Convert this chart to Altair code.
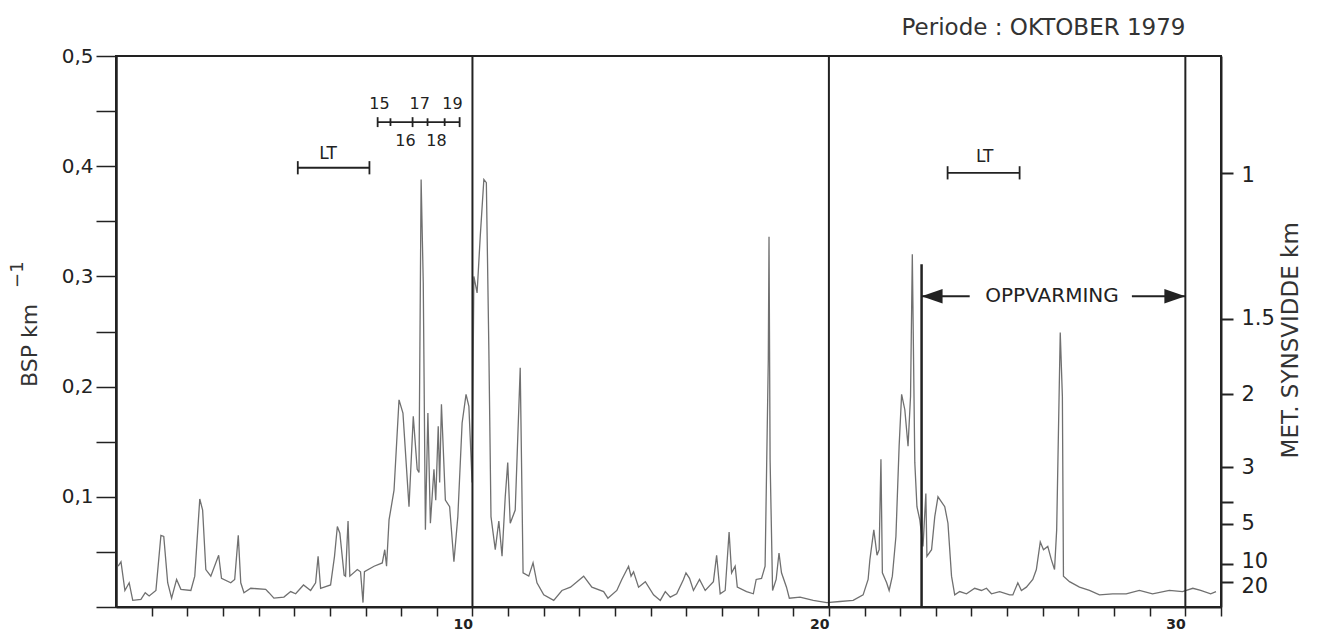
import altair as alt
import pandas as pd

# ---- data (day of October, BSP km^-1) ----
day = [0.06, 0.14, 0.25, 0.37, 0.47, 0.70, 0.82, 0.93, 1.12, 1.26, 1.34, 1.45, 1.56, 1.70, 1.82,
       2.10, 2.21, 2.35, 2.43, 2.52, 2.66, 2.88, 2.96, 3.22, 3.33, 3.43, 3.50, 3.59, 3.78, 4.20,
       4.29, 4.43, 4.71, 4.90, 5.04, 5.26, 5.46, 5.60, 5.67, 5.74, 6.02, 6.13, 6.21, 6.28, 6.40,
       6.44, 6.51, 6.56, 6.77, 6.86, 6.93, 6.97, 7.24, 7.47, 7.54, 7.59, 7.66, 7.80, 7.94, 8.05,
       8.22, 8.34, 8.45, 8.50, 8.56, 8.62, 8.68, 8.75, 8.82, 8.92, 8.97, 9.04, 9.08, 9.13, 9.24,
       9.36, 9.48, 9.59, 9.71, 9.82, 9.90, 9.99, 10.04, 10.13, 10.22, 10.32, 10.39, 10.46, 10.52,
       10.64, 10.74, 10.83, 10.92, 10.99, 11.06, 11.20, 11.34, 11.42, 11.58, 11.70, 11.81, 12.00,
       12.28, 12.51, 12.75, 13.12, 13.35, 13.68, 13.80, 14.05, 14.19, 14.38, 14.45, 14.52, 14.66,
       14.85, 15.08, 15.27, 15.41, 15.55, 15.73, 15.92, 15.99, 16.09, 16.20, 16.37, 16.53, 16.76,
       16.85, 16.95, 17.09, 17.20, 17.27, 17.37, 17.43, 17.69, 17.88, 17.96, 18.11, 18.21, 18.30,
       18.32, 18.35, 18.42, 18.52, 18.60, 18.67, 18.81, 18.89, 19.19, 19.56, 19.94, 20.31, 20.68,
       20.96, 21.10, 21.15, 21.26, 21.35, 21.41, 21.46, 21.50, 21.62, 21.69, 21.78, 21.88, 21.97,
       22.04, 22.13, 22.22, 22.29, 22.34, 22.41, 22.47, 22.55, 22.64, 22.72, 22.75, 22.88, 22.97,
       23.06, 23.25, 23.34, 23.44, 23.53, 23.67, 23.86, 24.09, 24.28, 24.42, 24.56, 24.79, 25.07,
       25.16, 25.30, 25.40, 25.54, 25.72, 25.82, 25.93, 26.02, 26.14, 26.24, 26.33, 26.39, 26.49,
       26.55, 26.58, 26.75, 27.03, 27.31, 27.59, 27.96, 28.34, 28.71, 29.08, 29.55, 29.92, 30.21,
       30.43, 30.71, 30.86]
bsp = [0.037, 0.041, 0.015, 0.022, 0.006, 0.007, 0.013, 0.010, 0.015, 0.065, 0.064, 0.022, 0.008, 0.025, 0.016,
       0.015, 0.028, 0.098, 0.088, 0.034, 0.028, 0.047, 0.026, 0.022, 0.025, 0.065, 0.022, 0.013, 0.017, 0.016,
       0.013, 0.008, 0.009, 0.014, 0.012, 0.020, 0.015, 0.022, 0.046, 0.017, 0.020, 0.046, 0.073, 0.067, 0.029,
       0.028, 0.078, 0.028, 0.034, 0.032, 0.004, 0.032, 0.037, 0.040, 0.052, 0.037, 0.079, 0.106, 0.188, 0.176,
       0.091, 0.173, 0.125, 0.122, 0.388, 0.294, 0.070, 0.176, 0.076, 0.125, 0.097, 0.164, 0.113, 0.184, 0.097,
       0.091, 0.041, 0.082, 0.167, 0.193, 0.182, 0.113, 0.300, 0.285, 0.337, 0.388, 0.385, 0.234, 0.082,
       0.052, 0.078, 0.046, 0.100, 0.131, 0.076, 0.088, 0.217, 0.031, 0.028, 0.040, 0.022, 0.011,
       0.006, 0.015, 0.018, 0.028, 0.018, 0.014, 0.008, 0.015, 0.025, 0.037, 0.028, 0.032, 0.018,
       0.023, 0.011, 0.006, 0.014, 0.009, 0.012, 0.025, 0.031, 0.026, 0.015, 0.025, 0.015, 0.023,
       0.047, 0.012, 0.015, 0.068, 0.031, 0.037, 0.018, 0.014, 0.012, 0.025, 0.026, 0.037, 0.225,
       0.336, 0.134, 0.015, 0.025, 0.049, 0.031, 0.018, 0.008, 0.009, 0.006, 0.004, 0.005, 0.006,
       0.011, 0.025, 0.043, 0.070, 0.047, 0.052, 0.134, 0.031, 0.022, 0.015, 0.028, 0.064, 0.146,
       0.193, 0.179, 0.146, 0.191, 0.320, 0.131, 0.091, 0.079, 0.055, 0.103, 0.046, 0.052, 0.082,
       0.100, 0.091, 0.076, 0.028, 0.011, 0.014, 0.012, 0.017, 0.015, 0.017, 0.012, 0.014, 0.011,
       0.011, 0.022, 0.015, 0.018, 0.025, 0.034, 0.059, 0.052, 0.055, 0.043, 0.034, 0.070, 0.249,
       0.191, 0.028, 0.023, 0.018, 0.015, 0.011, 0.012, 0.012, 0.015, 0.012, 0.015, 0.014, 0.017,
       0.015, 0.012, 0.014]

# axes
left_tick_values = [0.0, 0.05, 0.1, 0.15, 0.2, 0.25, 0.3, 0.35, 0.4, 0.45, 0.5]
x_tick_values = list(range(1, 32))
vis_positions = [0.394, 0.2615, 0.193, 0.127, 0.095, 0.0755, 0.039, 0.0227]
vis_labels = ["1", "1.5", "2", "3", "", "5", "10", "20"]

# structure lines
day_lines = [10, 20, 30]
warm_start = 22.6
warm_top = 0.311

# annotation bars: (x start, x end, y)
bar_x1 = [5.10, 23.33, 7.34, 22.6, 28.5]
bar_x2 = [7.11, 25.35, 9.64, 23.95, 30.0]
bar_y = [0.3986, 0.394, 0.44, 0.282, 0.282]
# end caps / hour marks
cap_x = [5.10, 7.11, 23.33, 25.35, 7.34, 7.70, 8.32, 8.74, 9.22, 9.64]
cap_y = [0.3986, 0.3986, 0.394, 0.394, 0.44, 0.44, 0.44, 0.44, 0.44, 0.44]
cap_h = [0.006, 0.006, 0.006, 0.006, 0.0045, 0.0035, 0.0045, 0.0035, 0.0035, 0.0045]
# annotation texts
note_text = ["LT", "LT", "15", "17", "19", "16", "18", "OPPVARMING"]
note_x = [5.95, 24.37, 7.39, 8.52, 9.44, 8.12, 8.99, 26.26]
note_y = [0.411, 0.408, 0.4565, 0.4565, 0.4565, 0.4226, 0.4226, 0.282]
note_size = [17, 17, 16, 16, 16, 16, 16, 20]

# axis titles (drawn as rotated text beside the axes)
ytitle_text = ["BSP km", "−1", "MET. SYNSVIDDE km"]
ytitle_x = [-2.40, -2.74, 32.95]
ytitle_y = [0.2373, 0.3016, 0.242]
ytitle_size = [22, 18, 23]

FONT = "DejaVu Sans"
INK = "#222222"
TXT = "#333333"

X = alt.Scale(domain=[0, 31], nice=False, zero=False)
Y = alt.Scale(domain=[0, 0.5], nice=False, zero=False)


def xq(field):
    return alt.X(field, scale=X, axis=None)


def yq(field):
    return alt.Y(field, scale=Y, axis=None)


line_df = pd.DataFrame({"day": day, "bsp": bsp})

line = alt.Chart(line_df).mark_line(color="#707070", strokeWidth=1.3).encode(
    x=alt.X("day:Q", scale=X, axis=alt.Axis(
        values=x_tick_values, title=None, grid=False,
        labelExpr="datum.value % 10 == 0 ? '' + datum.value : ''",
        tickSize=9, tickWidth=1.5, domainWidth=2, labelFontSize=14, labelFontWeight="bold",
        labelAlign="right", labelBaseline="top", labelPadding=1, labelFont=FONT,
        labelOverlap=False, labelBound=False,
        domainColor=INK, tickColor=INK, labelColor=INK)),
    y=alt.Y("bsp:Q", scale=Y, axis=alt.Axis(
        values=left_tick_values, grid=False, title=None,
        labelExpr="datum.value > 0.01 && abs(datum.value*10 - round(datum.value*10)) < 0.001 ? replace(format(datum.value, '.1f'), '.', ',') : ''",
        tickSize=20, tickWidth=1.5, domainWidth=2.5, labelFontSize=20, labelPadding=3,
        labelFont=FONT, labelOverlap=False,
        domainColor=INK, tickColor=INK, labelColor=INK)),
)

vl_df = pd.DataFrame({"day": day_lines, "lo": [0.0] * len(day_lines), "hi": [0.5] * len(day_lines)})
right_expr = " : ".join(
    f"abs(datum.value - {v}) < 0.0005 ? '{l}'" for v, l in zip(vis_positions, vis_labels)
) + " : ''"
vlines = alt.Chart(vl_df).mark_rule(color=INK, strokeWidth=2).encode(
    x=xq("day:Q"),
    y=alt.Y("lo:Q", scale=Y, axis=alt.Axis(
        orient="right", values=vis_positions, labelExpr=right_expr, grid=False,
        title=None, tickSize=12, tickWidth=2, labelOverlap=False,
        labelOffset={"condition": [{"test": "datum.value < 0.03", "value": 5},
                                   {"test": "datum.value < 0.05", "value": -3},
                                   {"test": "datum.value > 0.3", "value": 3}],
                     "value": 0},
        domainWidth=2, labelFontSize=21, labelFont=FONT, labelPadding=8,
        domainColor=INK, tickColor=INK, labelColor=INK)),
    y2="hi:Q",
)

warm_df = pd.DataFrame({"day": [warm_start], "lo": [0.0], "hi": [warm_top]})
warm = alt.Chart(warm_df).mark_rule(color=INK, strokeWidth=2.5).encode(
    x=xq("day:Q"), y=yq("lo:Q"), y2="hi:Q")

bar_df = pd.DataFrame({"x1": bar_x1, "x2": bar_x2, "y": bar_y})
bars = alt.Chart(bar_df).mark_rule(color=INK, strokeWidth=1.8).encode(
    x=xq("x1:Q"), x2="x2:Q", y=yq("y:Q"))

cap_df = pd.DataFrame({"x": cap_x, "lo": [a - b for a, b in zip(cap_y, cap_h)],
                       "hi": [a + b for a, b in zip(cap_y, cap_h)]})
caps = alt.Chart(cap_df).mark_rule(color=INK, strokeWidth=1.8).encode(
    x=xq("x:Q"), y=yq("lo:Q"), y2="hi:Q")

arrow_l = alt.Chart(pd.DataFrame({"x": [warm_start], "y": [0.282]})).mark_point(
    shape="M 0 0 L 2 -0.7 L 2 0.7 Z", size=441, filled=True, color=INK, opacity=1, strokeWidth=0
).encode(x=xq("x:Q"), y=yq("y:Q"))
arrow_r = alt.Chart(pd.DataFrame({"x": [30.0], "y": [0.282]})).mark_point(
    shape="M 0 0 L -2 -0.7 L -2 0.7 Z", size=441, filled=True, color=INK, opacity=1, strokeWidth=0
).encode(x=xq("x:Q"), y=yq("y:Q"))

note_df = pd.DataFrame({"t": note_text, "x": note_x, "y": note_y, "s": note_size})
notes = alt.Chart(note_df).mark_text(font=FONT, color=INK, baseline="middle", align="center").encode(
    x=xq("x:Q"), y=yq("y:Q"), text="t:N",
    size=alt.Size("s:Q", scale=None, legend=None))

yt_df = pd.DataFrame({"t": ytitle_text, "x": ytitle_x, "y": ytitle_y, "s": ytitle_size})
ytitles = alt.Chart(yt_df).mark_text(font=FONT, color=TXT, baseline="middle", align="center",
                                     angle=270).encode(
    x=xq("x:Q"), y=yq("y:Q"), text="t:N",
    size=alt.Size("s:Q", scale=None, legend=None))

chart = alt.layer(line, vlines, warm, bars, caps, arrow_l, arrow_r, notes, ytitles).resolve_axis(
    x="independent", y="independent"
).properties(
    width=1105, height=551,
    padding={"left": 116, "top": 56, "right": 100, "bottom": 25},
    autosize=alt.AutoSizeParams(type="none"),
    title=alt.TitleParams("Periode : OKTOBER 1979", anchor="end", dx=-117, offset=6,
                          fontSize=23, font=FONT, fontWeight="normal", color=TXT),
).configure(
    background="white",
    view=alt.ViewConfig(stroke=INK, strokeWidth=2),
)

chart.save("out.html", embed_options={"renderer": "svg", "actions": False})
